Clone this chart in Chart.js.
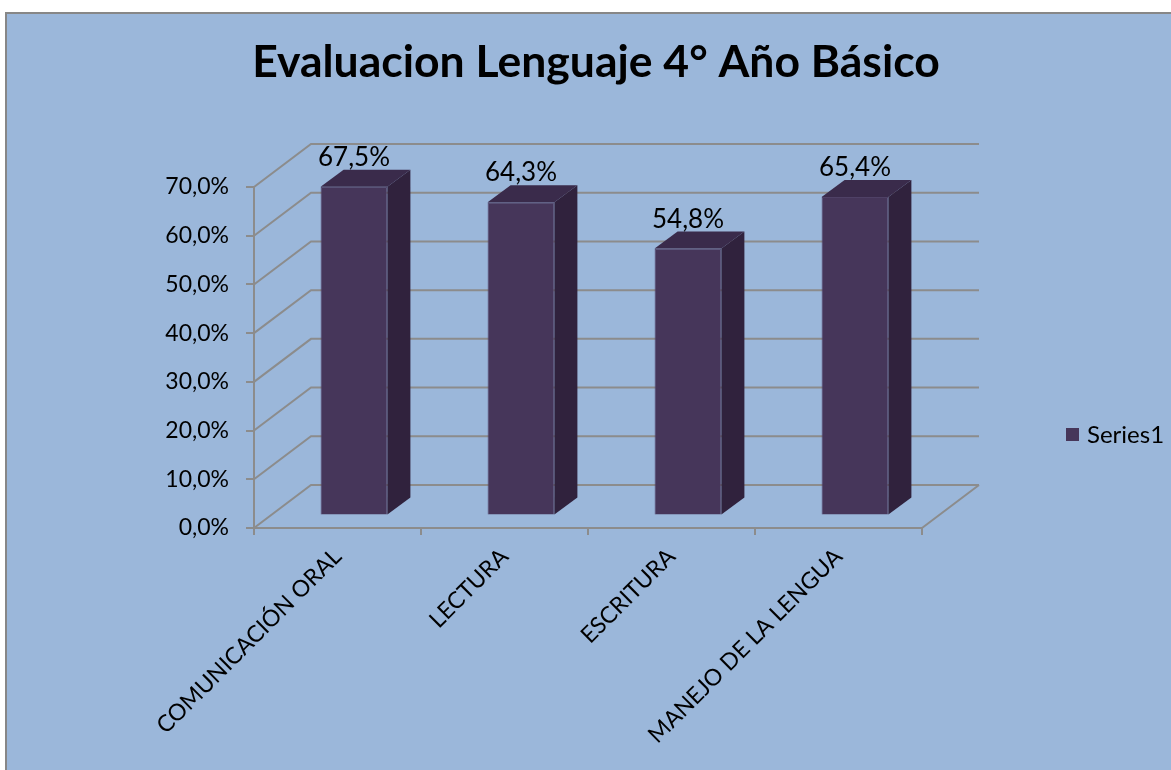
<!DOCTYPE html>
<html>
<head>
<meta charset="utf-8">
<script src="https://cdn.jsdelivr.net/npm/chart.js@4.4.1/dist/chart.umd.min.js"></script>
<style>
  html, body { margin: 0; padding: 0; background: #fff; }
  #wrap { width: 1171px; height: 770px; }
</style>
</head>
<body>
<div id="wrap"><canvas id="grafico" width="1171" height="770"></canvas></div>
<script>
// datos del grafico
const categorias = ['COMUNICACIÓN ORAL', 'LECTURA', 'ESCRITURA', 'MANEJO DE LA LENGUA']
const valores = [67.5, 64.3, 54.8, 65.4]
const ticksY = [0, 10, 20, 30, 40, 50, 60, 70]
const titulo = 'Evaluacion Lenguaje 4° Año Básico'
const serie = 'Series1'

const FONT = 'Lato, "Open Sans", sans-serif'
const fmt = v => v.toFixed(1).replace('.', ',') + '%'

// desplazamientos del efecto 3D
const fondo = { dx: 57, dy: -43 }     // pared del fondo
const frente = { dx: 16.5, dy: -12.5 } // cara frontal de las barras
const prof = { dx: 23, dy: -17 }      // profundidad de cada barra

const GRIS = '#8c8c8c'

const plugin3d = {
  id: 'plugin3d',
  beforeDraw(chart) {
    const ctx = chart.ctx
    ctx.save()
    ctx.fillStyle = '#fff'
    ctx.fillRect(0, 0, chart.width, chart.height)
    ctx.fillStyle = '#9bb7da'
    ctx.fillRect(6, 13, chart.width, chart.height)
    ctx.strokeStyle = '#878787'
    ctx.lineWidth = 2
    ctx.beginPath()
    ctx.moveTo(6, chart.height)
    ctx.lineTo(6, 13)
    ctx.lineTo(chart.width, 13)
    ctx.stroke()

    // titulo
    ctx.fillStyle = '#000'
    ctx.font = 'bold 44.5px ' + FONT
    ctx.textAlign = 'center'
    ctx.textBaseline = 'middle'
    ctx.fillText(titulo, 596, 63)

    // leyenda
    const ds = chart.data.datasets[0]
    ctx.fillStyle = ds.backgroundColor
    ctx.fillRect(1066, 428, 13, 13)
    ctx.fillStyle = '#000'
    ctx.font = '24px ' + FONT
    ctx.textAlign = 'left'
    ctx.fillText(ds.label, 1087, 435)
    ctx.restore()
  },
  beforeDatasetsDraw(chart) {
    const ctx = chart.ctx
    const a = chart.chartArea
    const y = chart.scales.y
    ctx.save()
    ctx.strokeStyle = GRIS
    ctx.lineWidth = 2
    ctx.beginPath()
    ticksY.forEach(t => {
      const py = y.getPixelForValue(t)
      ctx.moveTo(a.left, py)
      ctx.lineTo(a.left + fondo.dx, py + fondo.dy)
      ctx.lineTo(a.right + fondo.dx, py + fondo.dy)
    })
    // borde derecho del piso
    ctx.moveTo(a.right, a.bottom)
    ctx.lineTo(a.right + fondo.dx, a.bottom + fondo.dy)
    ctx.stroke()
    ctx.restore()

    ctx.save()
    ctx.translate(frente.dx, frente.dy)
  },
  afterDatasetsDraw(chart) {
    const ctx = chart.ctx
    const meta = chart.getDatasetMeta(0)
    meta.data.forEach(bar => {
      const p = bar.getProps(['x', 'y', 'base', 'width'], true)
      const l = p.x - p.width / 2
      const r = p.x + p.width / 2
      // lado
      ctx.fillStyle = '#30223d'
      ctx.beginPath()
      ctx.moveTo(r, p.y)
      ctx.lineTo(r + prof.dx, p.y + prof.dy)
      ctx.lineTo(r + prof.dx, p.base + prof.dy)
      ctx.lineTo(r, p.base)
      ctx.closePath()
      ctx.fill()
      // tapa
      ctx.fillStyle = '#3a2b4b'
      ctx.beginPath()
      ctx.moveTo(l, p.y)
      ctx.lineTo(l + prof.dx, p.y + prof.dy)
      ctx.lineTo(r + prof.dx, p.y + prof.dy)
      ctx.lineTo(r, p.y)
      ctx.closePath()
      ctx.fill()
    })
    // etiquetas de datos
    ctx.fillStyle = '#000'
    ctx.font = '26px ' + FONT
    ctx.textAlign = 'center'
    ctx.textBaseline = 'alphabetic'
    meta.data.forEach((bar, i) => {
      ctx.fillText(fmt(valores[i]), bar.x, bar.y + prof.dy - 4)
    })
    ctx.restore()
  }
}

const grafico = new Chart(document.getElementById('grafico'), {
  type: 'bar',
  data: {
    labels: categorias,
    datasets: [{
      label: serie,
      data: valores,
      backgroundColor: '#46365a',
      borderColor: '#4f4166',
      borderWidth: 1,
      barPercentage: 0.4,
      categoryPercentage: 1
    }]
  },
  options: {
    responsive: false,
    animation: false,
    layout: { padding: { left: 154, right: 249, top: 187, bottom: 2 } },
    plugins: {
      legend: { display: false },
      title: { display: false },
      tooltip: { enabled: false }
    },
    scales: {
      x: {
        afterFit(s) { s.height = 240 },
        grid: { drawOnChartArea: false, offset: true, color: GRIS, lineWidth: 2, tickLength: 7 },
        border: { color: GRIS, width: 2 },
        ticks: {
          autoSkip: false, minRotation: 45, maxRotation: 45, padding: 8,
          color: '#000', font: { family: FONT, size: 23 }
        }
      },
      y: {
        min: 0, max: 70,
        afterFit(s) { s.width = 100 },
        afterBuildTicks(s) { s.ticks = ticksY.map(v => ({ value: v })) },
        grid: { drawOnChartArea: false, color: GRIS, lineWidth: 2, tickLength: 8 },
        border: { color: GRIS, width: 2 },
        ticks: {
          padding: 17, color: '#000', font: { family: FONT, size: 23 },
          callback: v => fmt(v)
        }
      }
    }
  },
  plugins: [plugin3d]
})
</script>
</body>
</html>
